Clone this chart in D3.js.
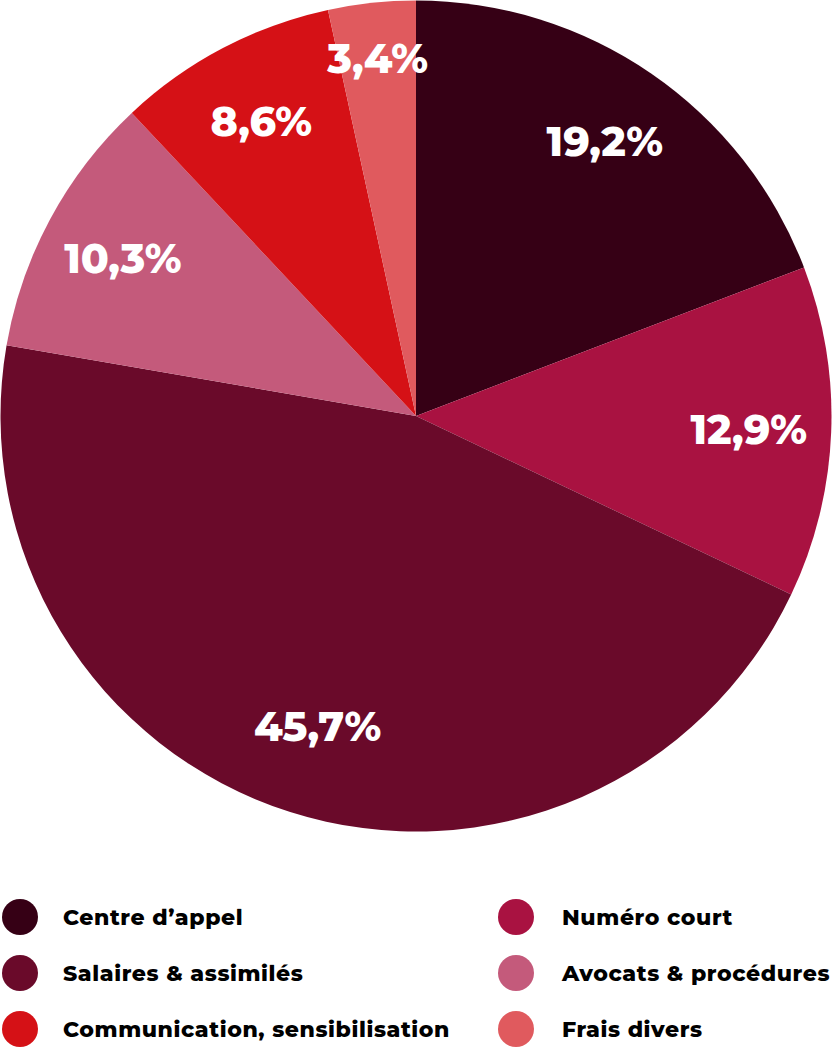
<!DOCTYPE html>
<html><head><meta charset="utf-8">
<script src="https://cdn.jsdelivr.net/npm/d3@7"></script>
<style>
html,body{margin:0;padding:0;background:#fff;}
svg{display:block;}
</style></head>
<body>
<svg id="chart" width="832" height="1048"></svg>
<script>
const categories = ["Centre d’appel","Numéro court","Salaires & assimilés","Avocats & procédures","Communication, sensibilisation","Frais divers"];
const values = [19.2, 12.9, 45.7, 10.3, 8.6, 3.4];
const labels = ["19,2%","12,9%","45,7%","10,3%","8,6%","3,4%"];
const colors = ["#360015","#A91241","#6A0A2A","#C45A7B","#D51116","#E05A5E"];
const legendOrder = [0,1,2,3,4,5];

const svg = d3.select("#chart");
const cx = 416, cy = 416, R = 415.5;
const font = "Montserrat, Inter, 'Open Sans', sans-serif";

const pie = d3.pie().sort(null).value(d => d.v);
const data = categories.map((c,i)=>({c, v:values[i], l:labels[i], col:colors[i]}));
const arcs = pie(data);
const arc = d3.arc().innerRadius(0).outerRadius(R);

const g = svg.append("g").attr("transform",`translate(${cx},${cy})`);
g.selectAll("path").data(arcs).enter().append("path")
  .attr("d", arc).attr("fill", d=>d.data.col);

const lr = d => d.data.v < 5 ? 360 : (d.data.v > 40 ? 325 : 333);
const labelArc = d3.arc().innerRadius(lr).outerRadius(lr);
g.selectAll("text").data(arcs).enter().append("text")
  .attr("transform", d => `translate(${labelArc.centroid(d)})`)
  .attr("text-anchor","middle").attr("dy","0.36em")
  .attr("fill","#fff").attr("font-family",font).attr("font-weight",800)
  .attr("font-size",41)
  .text(d=>d.data.l);

// legend
const colX = [20, 516], rowY = [917, 973, 1029];
const lg = svg.append("g");
legendOrder.forEach((idx,k)=>{
  const col = k % 2, row = Math.floor(k/2);
  const x = colX[col], y = rowY[row];
  lg.append("circle").attr("cx",x).attr("cy",y).attr("r",18).attr("fill",colors[idx]);
  lg.append("text").attr("x", x+43+(col?3:0)).attr("y", y).attr("dy","0.36em")
    .attr("font-family",font).attr("font-weight",800).attr("font-size",22)
    .attr("letter-spacing","0.6")
    .attr("fill","#000").text(categories[idx]);
});
</script>
</body></html>
